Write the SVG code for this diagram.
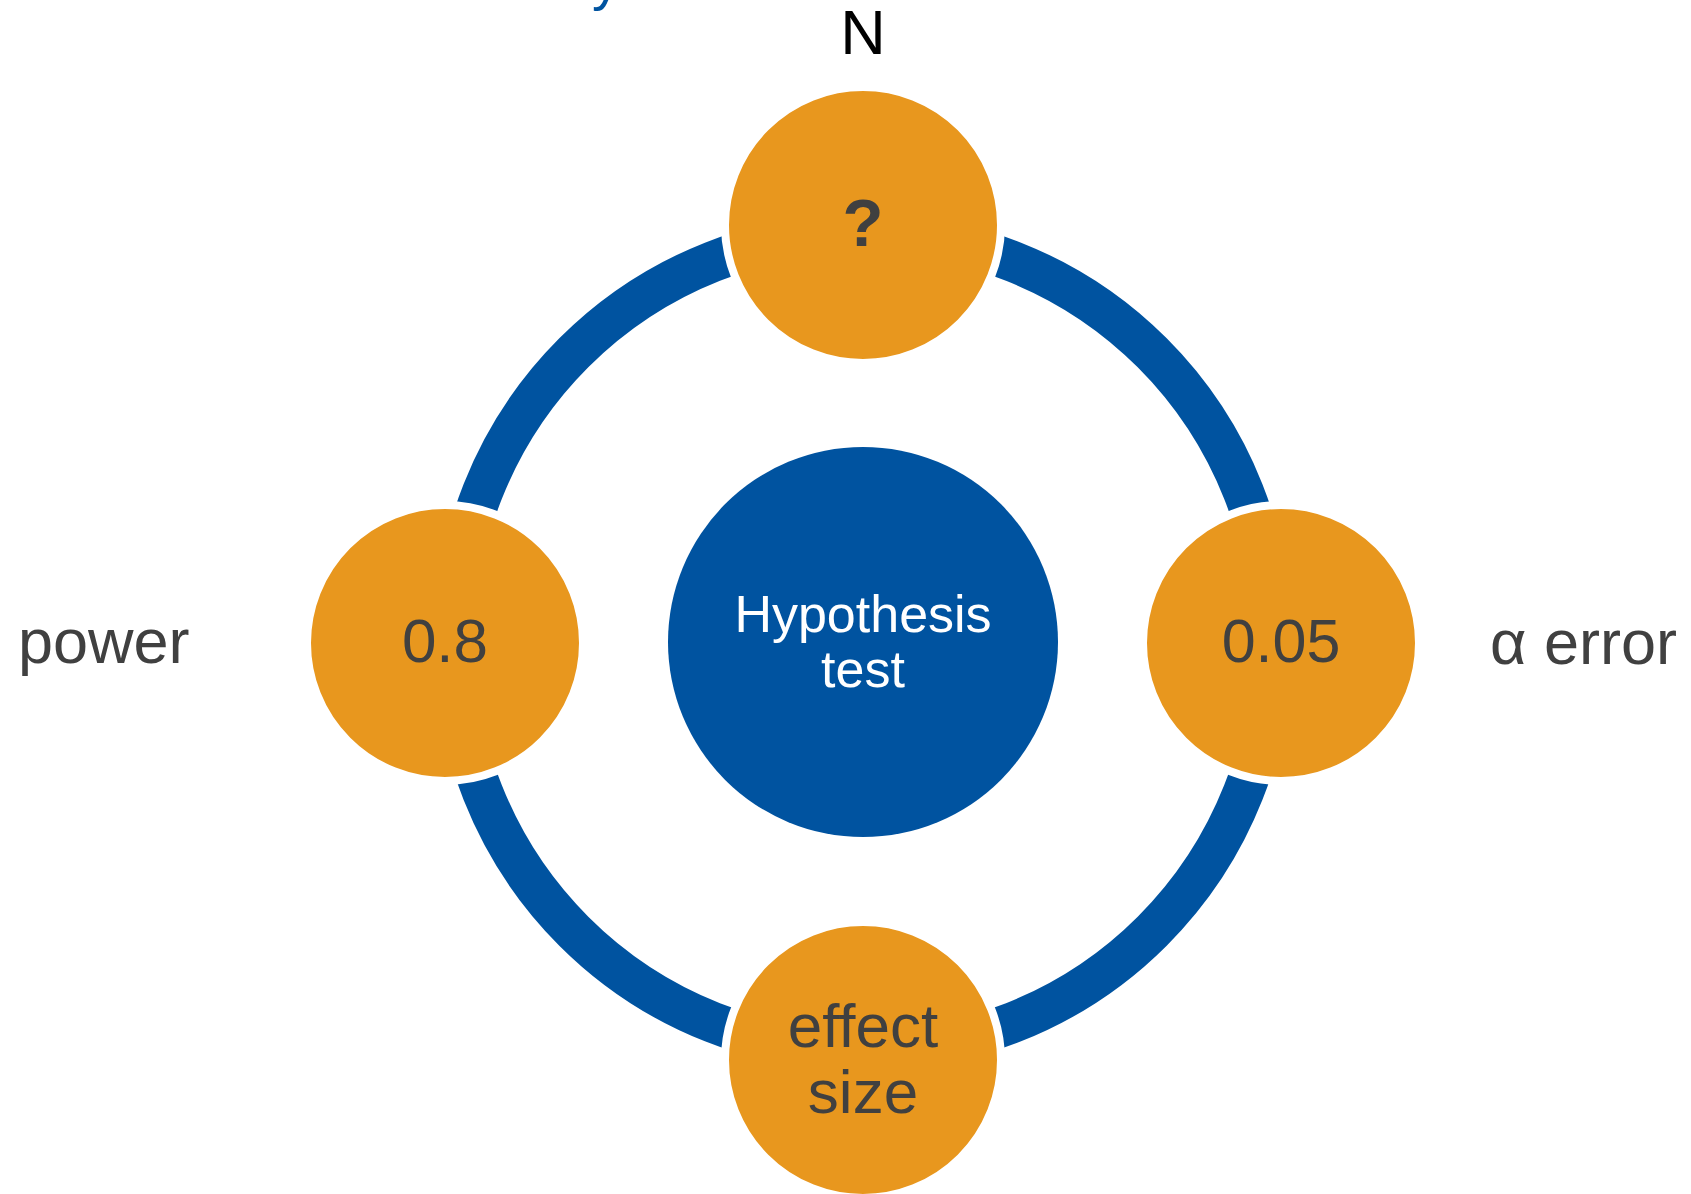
<svg xmlns="http://www.w3.org/2000/svg" width="1691" height="1194" viewBox="0 0 1691 1194">
<style>
.lbl{font-family:"Liberation Sans",Arial,sans-serif;fill:#404040}
.sat{fill:#E8971E;stroke:#FFFFFF;stroke-width:8}
.in{font-family:"Liberation Sans",Arial,sans-serif;fill:#404040;text-anchor:middle}
</style>
<rect width="1691" height="1194" fill="#FFFFFF"/>
<text x="592" y="-1" font-family="Liberation Sans, Arial, sans-serif" font-size="56" fill="#0053A0">y</text>
<g id="connectors">
<circle cx="863" cy="642" r="409" fill="none" stroke="#0053A0" stroke-width="41"/>
</g>
<g id="center">
<circle cx="863" cy="642" r="195" fill="#0053A0"/>
<text x="863" y="632" font-family="Liberation Sans, Arial, sans-serif" font-size="52" fill="#FFFFFF" text-anchor="middle">Hypothesis</text>
<text x="863" y="687" font-family="Liberation Sans, Arial, sans-serif" font-size="52" fill="#FFFFFF" text-anchor="middle">test</text>
</g>
<g id="n-node">
<circle class="sat" cx="863" cy="225" r="138"/>
<text class="in" x="863" y="246" font-size="67" font-weight="bold">?</text>
<text x="863" y="54" font-family="Liberation Sans, Arial, sans-serif" font-size="63" fill="#000000" text-anchor="middle">N</text>
</g>
<g id="power-node">
<circle class="sat" cx="445" cy="643" r="138"/>
<text class="in" x="445" y="662" font-size="62">0.8</text>
<text class="lbl" x="18" y="663" font-size="63">power</text>
</g>
<g id="alpha-node">
<circle class="sat" cx="1281" cy="643" r="138"/>
<text class="in" x="1281" y="662" font-size="61">0.05</text>
<text class="lbl" x="1490" y="664" font-size="63">α error</text>
</g>
<g id="effect-node">
<circle class="sat" cx="863" cy="1060" r="138"/>
<text class="in" x="863" y="1047" font-size="62">effect</text>
<text class="in" x="863" y="1113" font-size="62">size</text>
</g>
</svg>
